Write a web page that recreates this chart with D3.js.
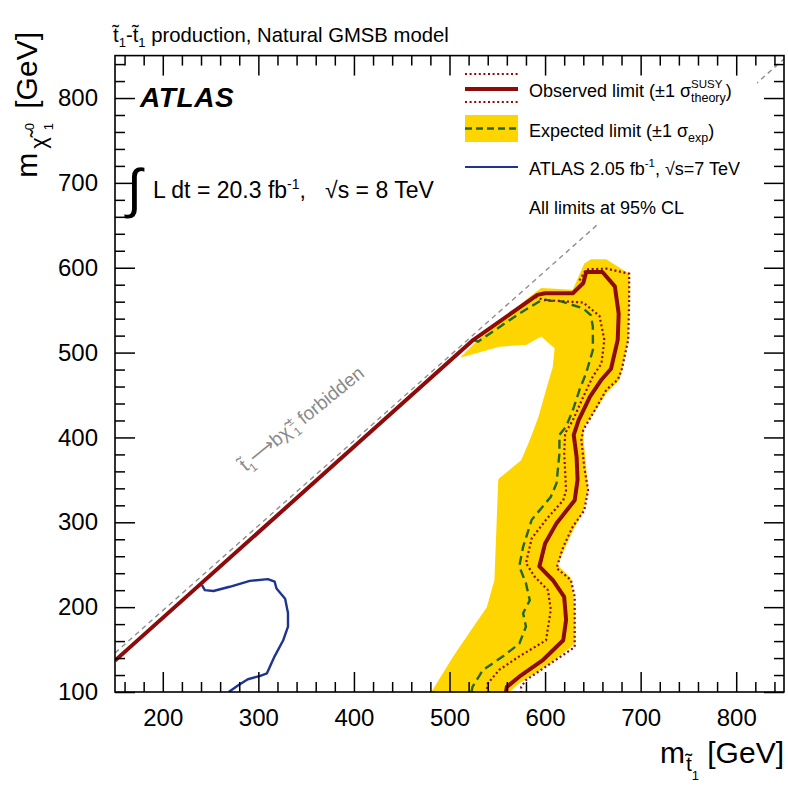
<!DOCTYPE html>
<html><head><meta charset="utf-8">
<script src="https://cdn.jsdelivr.net/npm/d3@7"></script>
<style>body{margin:0;background:#fff} svg text{font-family:"Liberation Sans",Arial,Helvetica,sans-serif}</style>
</head><body><svg id="c" width="788" height="788"></svg>
<script>
// ---------------- data (GeV) ----------------
const xDomain = [150, 850];
const yDomain = [100, 850];
const xMajorTicks = [200, 300, 400, 500, 600, 700, 800];
const yMajorTicks = [100, 200, 300, 400, 500, 600, 700, 800];
const xMinorTicks = d3.range(160, 850, 20).filter(v => v % 100 !== 0);
const yMinorTicks = d3.range(120, 850, 20).filter(v => v % 100 !== 0);

// expected limit +-1 sigma band (closed polygon)
const bandX = [481,504,525,539,547,549,551,552,575,584,593,601,608,610,596,580,552,511,526,584,596,629,641,648,664,688,688,687,681,678,664,653,641,640,643,645,640,627,613,627,631,631,615,598,573,563];
const bandY = [100,142,177,200,232,291,350,352,373,397,424,456,483,505,519,509,507,494,511,566,576,574,605,610,610,593,578,515,483,468,452,432,413,401,365,338,314,285,250,234,200,157,142,128,110,100];

// observed limit
const obsX = [150,525,592,600,629,640,643,660,673,677,676,669,659,647,635,630,633,634,631,612,600,594,608,620,622,619,598,573,560,559];
const obsY = [137,515,568,570,570,582,595,595,578,546,515,481,468,448,420,403,377,350,326,299,275,248,232,212,185,161,138,118,106,100];

// observed -1 sigma theory
const obsDownX = [590,598,640,657,662,659,650,640,629,621,620,622,619,601,586,580,589,603,606,601,573,552,540,539];
const obsDownY = [566,562,559,543,515,487,472,448,420,405,381,338,326,303,281,252,236,220,197,161,142,126,110,100];

// observed +1 sigma theory
const obsUpX = [636,643,664,688,688,687,680,676,664,652,640,638,641,645,641,629,619,612,627,631,631,622,601,580,575,575];
const obsUpY = [585,598,599,593,562,515,479,468,456,432,409,397,365,338,314,295,271,246,232,212,153,146,130,114,106,100];

// expected limit
const expX = [525,530,573,598,606,615,640,648,650,650,643,636,629,622,615,615,612,606,586,577,573,580,584,577,580,573,556,535,524,523];
const expY = [515,513,546,563,561,561,552,544,530,503,476,456,432,413,403,381,346,330,303,271,248,228,208,193,177,157,142,126,106,100];

// ATLAS 2.05 fb-1, 7 TeV
const atlas7X = [241,244,253,270,291,310,317,319,328,331,331,326,317,309,302,289,279,269];
const atlas7Y = [226,220,219,224,231,233,230,222,210,193,177,161,142,122,119,115,108,100];

// kinematic boundary (t1 -> b chi1+- forbidden)
const kinX = [150, 850];
const kinY = [146, 846];

// ---------------- drawing ----------------
const svg = d3.select('#c');
const W = 788, H = 788;
const L = 115, R = 784, T = 55.6, B = 692;
const x = d3.scaleLinear().domain(xDomain).range([L, R]);
const y = d3.scaleLinear().domain(yDomain).range([B, T]);

const RED = '#8e0b0b', GREEN = '#27661b', BLUE = '#1f3391', YELLOW = '#FFD500', GRAY = '#8f8f8f';

svg.append('rect').attr('width', W).attr('height', H).attr('fill', '#fff');
svg.append('defs').append('clipPath').attr('id', 'clip')
  .append('rect').attr('x', L).attr('y', T).attr('width', R - L).attr('height', B - T);
const plot = svg.append('g').attr('clip-path', 'url(#clip)');

const pts = (xs, ys) => xs.map((v, i) => [v, ys[i]]);
const line = d3.line().x(d => x(d[0])).y(d => y(d[1]));

plot.append('path').attr('d', line(pts(bandX, bandY)) + 'Z').attr('fill', YELLOW);
plot.append('path').attr('d', line(pts(kinX, kinY)))
  .attr('fill', 'none').attr('stroke', GRAY).attr('stroke-width', 1.4).attr('stroke-dasharray', '5,4');
plot.append('path').attr('d', line(pts(atlas7X, atlas7Y)))
  .attr('fill', 'none').attr('stroke', BLUE).attr('stroke-width', 2.4).attr('stroke-linejoin', 'round');
plot.append('path').attr('d', line(pts(expX, expY)))
  .attr('fill', 'none').attr('stroke', GREEN).attr('stroke-width', 2.4).attr('stroke-dasharray', '9,5');
[[obsDownX, obsDownY], [obsUpX, obsUpY]].forEach(([a, b]) => {
  plot.append('path').attr('d', line(pts(a, b)))
    .attr('fill', 'none').attr('stroke', RED).attr('stroke-width', 2.2).attr('stroke-dasharray', '2,2.6');
});
plot.append('path').attr('d', line(pts(obsX, obsY)))
  .attr('fill', 'none').attr('stroke', RED).attr('stroke-width', 4).attr('stroke-linejoin', 'round');

// rich text helper
function rich(sel, parts, base) {
  let cur = 0, back = null;
  sel.attr('font-size', base);
  parts.forEach(p => {
    const ts = sel.append('tspan').attr('font-size', p.s || base).text(p.t);
    const sh = p.sh || 0;
    ts.attr('dy', sh - cur); cur = sh;
    let dx = p.dx || 0;
    if (back !== null) { dx -= back; back = null; }
    if (dx) ts.attr('dx', dx);
    if (p.stack) back = ts.node().getComputedTextLength();
  });
  return sel;
}

// legend (white box hides the diagonal)
svg.append('rect').attr('x', 455).attr('y', 57).attr('width', 302).attr('height', 167).attr('fill', '#fff');
const lg = svg.append('g');
const sx0 = 465, sx1 = 518, tx = 529;
lg.append('line').attr('x1', sx0).attr('x2', sx1).attr('y1', 74).attr('y2', 74)
  .attr('stroke', RED).attr('stroke-width', 2.2).attr('stroke-dasharray', '2,2.6');
lg.append('line').attr('x1', sx0).attr('x2', sx1).attr('y1', 102).attr('y2', 102)
  .attr('stroke', RED).attr('stroke-width', 2.2).attr('stroke-dasharray', '2,2.6');
lg.append('line').attr('x1', sx0).attr('x2', sx1).attr('y1', 89).attr('y2', 89)
  .attr('stroke', RED).attr('stroke-width', 4);
lg.append('rect').attr('x', sx0).attr('y', 115).attr('width', sx1 - sx0).attr('height', 27).attr('fill', YELLOW);
lg.append('line').attr('x1', sx0).attr('x2', sx1).attr('y1', 128.5).attr('y2', 128.5)
  .attr('stroke', GREEN).attr('stroke-width', 2.4).attr('stroke-dasharray', '7,4');
lg.append('line').attr('x1', sx0).attr('x2', sx1).attr('y1', 167).attr('y2', 167)
  .attr('stroke', BLUE).attr('stroke-width', 2.2);

rich(lg.append('text').attr('x', tx).attr('y', 97), [
  {t: 'Observed limit (±1 σ'}, {t: 'SUSY', s: 11.5, sh: -9, stack: true}, {t: 'theory', s: 12.5, sh: 5}, {t: ')', sh: 0}
], 18);
rich(lg.append('text').attr('x', tx).attr('y', 137), [
  {t: 'Expected limit (±1 σ'}, {t: 'exp', s: 12.5, sh: 5}, {t: ')', sh: 0}
], 18);
rich(lg.append('text').attr('x', tx).attr('y', 175), [
  {t: 'ATLAS 2.05 fb'}, {t: '-1', s: 11.5, sh: -8}, {t: ', √s=7 TeV', sh: 0}
], 18);
lg.append('text').attr('x', tx).attr('y', 214).attr('font-size', 18).text('All limits at 95% CL');

// forbidden label
rich(svg.append('text').attr('transform', 'translate(246,472) rotate(-39)').attr('fill', '#8a8a8a'), [
  {t: 't\u0303'}, {t: '1', s: 12, sh: 5}, {t: '\u27F6', sh: 0}, {t: 'b'}, {t: 'χ\u0303'},
  {t: '±', s: 12, sh: -8, stack: true, dx: 3}, {t: '1', s: 12, sh: 5}, {t: ' forbidden', sh: 0}
], 19);

// ATLAS label and luminosity
svg.append('text').attr('x', 140).attr('y', 107).attr('font-size', 28).attr('font-weight', 'bold')
  .attr('font-style', 'italic').attr('letter-spacing', 0.6).text('ATLAS');
svg.append('text').attr('x', 127).attr('y', 207).attr('font-size', 54).text('∫');
rich(svg.append('text').attr('x', 153).attr('y', 198), [
  {t: 'L dt = 20.3 fb'}, {t: '-1', s: 14, sh: -9}, {t: ',\u00a0\u00a0\u00a0√s = 8 TeV', sh: 0}
], 23);

// title
rich(svg.append('text').attr('x', 113).attr('y', 42), [
  {t: 't\u0303'}, {t: '1', s: 13, sh: 5}, {t: '-t\u0303', sh: 0}, {t: '1', s: 13, sh: 5},
  {t: ' production, Natural GMSB model', sh: 0}
], 20.3);

// axis titles
rich(svg.append('text').attr('x', 784).attr('y', 763).attr('text-anchor', 'end'), [
  {t: 'm'}, {t: 't\u0303', s: 21, sh: 8, dx: 1}, {t: '1', s: 13, sh: 17}, {t: ' [GeV]', sh: 0}
], 30);
rich(svg.append('text').attr('transform', 'translate(37,32) rotate(-90)').attr('text-anchor', 'end'), [
  {t: 'm'}, {t: 'χ\u0303', s: 22, sh: 9, dx: 4}, {t: '0', s: 13, sh: -3, stack: true, dx: 7}, {t: '1', s: 13, sh: 16}, {t: ' [GeV]', sh: 0, dx: 6}
], 30);

// axes (ticks inward, mirrored)
function styleAxis(g, fs) {
  g.select('.domain').remove();
  g.selectAll('line').attr('stroke', '#000').attr('stroke-width', 1.5);
  g.attr('font-family', null).attr('font-size', fs);
  g.selectAll('text').attr('fill', '#000');
}
const xb = svg.append('g').attr('transform', `translate(0,${B})`)
  .call(d3.axisBottom(x).tickValues(xMajorTicks).tickSize(-20).tickPadding(17).tickFormat(d3.format('d')));
styleAxis(xb, 24);
svg.append('g').attr('transform', `translate(0,${B})`)
  .call(d3.axisBottom(x).tickValues(xMinorTicks).tickSize(-10).tickFormat('')).call(g => styleAxis(g, 10));
svg.append('g').attr('transform', `translate(0,${T})`)
  .call(d3.axisTop(x).tickValues(xMajorTicks).tickSize(-20).tickFormat('')).call(g => styleAxis(g, 10));
svg.append('g').attr('transform', `translate(0,${T})`)
  .call(d3.axisTop(x).tickValues(xMinorTicks).tickSize(-10).tickFormat('')).call(g => styleAxis(g, 10));
const yl = svg.append('g').attr('transform', `translate(${L},0)`)
  .call(d3.axisLeft(y).tickValues(yMajorTicks).tickSize(-20).tickPadding(17).tickFormat(d3.format('d')));
styleAxis(yl, 24);
svg.append('g').attr('transform', `translate(${L},0)`)
  .call(d3.axisLeft(y).tickValues(yMinorTicks).tickSize(-10).tickFormat('')).call(g => styleAxis(g, 10));
svg.append('g').attr('transform', `translate(${R},0)`)
  .call(d3.axisRight(y).tickValues(yMajorTicks).tickSize(-20).tickFormat('')).call(g => styleAxis(g, 10));
svg.append('g').attr('transform', `translate(${R},0)`)
  .call(d3.axisRight(y).tickValues(yMinorTicks).tickSize(-10).tickFormat('')).call(g => styleAxis(g, 10));

svg.append('rect').attr('x', L).attr('y', T).attr('width', R - L).attr('height', B - T)
  .attr('fill', 'none').attr('stroke', '#000').attr('stroke-width', 1.6);
</script></body></html>
